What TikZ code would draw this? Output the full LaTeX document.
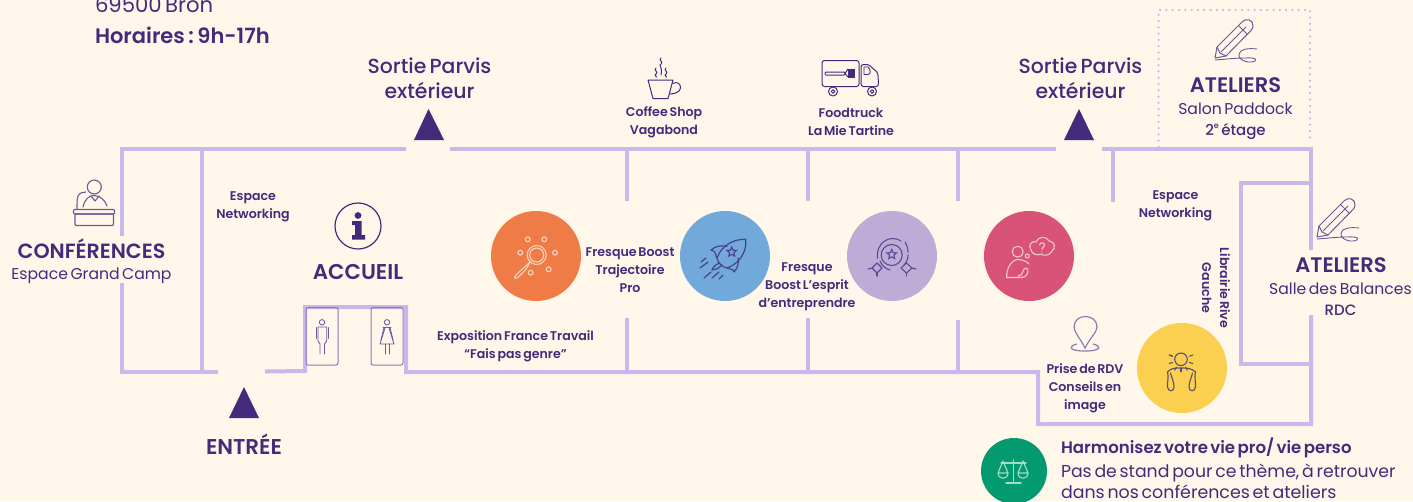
\documentclass[tikz,border=0pt]{standalone}
\usepackage{fontspec}
\usetikzlibrary{shapes.geometric}
\setmainfont{Poppins}[WordSpace=0.6]
\newfontfamily\pmed{Poppins Medium}[WordSpace=0.6]
\newfontfamily\psemi{Poppins SemiBold}[WordSpace=0.6]
\definecolor{bgc}{HTML}{FFF7EA}
\definecolor{ink}{HTML}{432B7C}
\definecolor{wall}{HTML}{C9B8EC}
\definecolor{iconc}{HTML}{6A5A9A}
\definecolor{corange}{RGB}{239,123,70}
\definecolor{cblue}{RGB}{112,169,218}
\definecolor{clilac}{RGB}{189,172,214}
\definecolor{cpink}{RGB}{217,82,120}
\definecolor{cyellow}{RGB}{251,207,80}
\definecolor{cgreen}{RGB}{4,154,111}
\definecolor{iorange}{RGB}{248,214,192}
\definecolor{iblue}{RGB}{72,66,142}
\definecolor{ililac}{RGB}{90,74,148}
\definecolor{ipink}{RGB}{243,198,211}
\definecolor{iyellow}{RGB}{92,78,110}
\definecolor{igreen}{RGB}{165,220,197}
\definecolor{ipin}{RGB}{140,125,175}
\definecolor{iwc}{RGB}{140,120,180}
\tikzset{
  wallline/.style={draw=wall,line width=4pt,line cap=butt,line join=miter},
  dotline/.style={draw=wall,line width=2.5pt,line cap=round,dash pattern=on 0pt off 6.3pt},
  lab/.style={text=ink,inner sep=0pt,outer sep=0pt,align=center},
  small/.style={lab,yshift=-1pt,font=\psemi\fontsize{12.6}{18}\selectfont},
  big/.style={lab,font=\psemi\fontsize{21}{24}\selectfont},
  bigger/.style={lab,font=\psemi\fontsize{21.4}{24}\selectfont},
  sortie/.style={lab,font=\pmed\fontsize{20.4}{25}\selectfont},
  sub/.style={lab,font=\fontsize{15.65}{21}\selectfont},
  subm/.style={lab,font=\pmed\fontsize{15}{18}\selectfont},
  spot/.style={circle,inner sep=0pt,minimum size=90pt},
  exit/.style={fill=ink,draw=none},
  icon/.style={draw=iconc,line width=1.1pt,line cap=round,line join=round},
  pure/.style={draw=ink,line width=1pt,line cap=round,line join=round},
  penicon/.pic={
    \draw[icon,line width=1pt] (0,0) -- (2,-11) -- (27.5,-36.5) .. controls (31,-40) and (38.5,-38.5) .. (38,-32) .. controls (38,-30) and (37,-28.5) .. (36,-27.5) -- (11,-2) -- cycle;
    \draw[icon,line width=1pt] (2,-11) -- (5,-5) -- (11,-2) (6.3,-6.3) -- (31,-31) (23.5,-32.5) -- (32,-24);
    \draw[icon,line width=.9pt] (0,2) .. controls (12,1) and (22,0) .. (30,0) .. controls (42,-1) and (44,3) .. (36,4) .. controls (28,4.5) and (23,0) .. (24,-4) .. controls (25,-9) and (33,-10) .. (42,-9);
  }
}
\begin{document}
\begin{tikzpicture}[x=1pt,y=-1pt]
\useasboundingbox (0,0) rectangle (1413,501);
\clip (0,0) rectangle (1413,501);
\fill[bgc] (0,0) rectangle (1413,501);

% walls
\draw[wallline] (122,236) -- (122,149) -- (406,149);
\draw[wallline] (122,283) -- (122,372) -- (218,372);
\draw[wallline] (202,149) -- (202,372);
\draw[wallline] (450,149) -- (1056,149);
\draw[wallline] (1102,149) -- (1311,149) -- (1311,250);
\draw[wallline] (265,371.5) -- (305,371) -- (305,307) -- (406,307) -- (406,372) -- (1038,372) -- (1038,424) -- (1311,424) -- (1311,315);
\draw[wallline] (1311,183) -- (1241,183) -- (1241,364) -- (1311,364);
\draw[wallline] (627,149) -- (627,201) (627,318) -- (627,372);
\draw[wallline] (808,149) -- (808,201) (808,318) -- (808,372);
\draw[wallline] (958,149) -- (958,201) (958,320) -- (958,372);
\draw[wallline] (1113,149) -- (1113,202);
\draw[dotline] (1158.5,147) -- (1158.5,10) -- (1310,10) -- (1310,140);

% exits
\fill[exit] (428.5,109) -- (444,140) -- (414,140) -- cycle;
\fill[exit] (1079,109) -- (1094,140) -- (1064,140) -- cycle;
\fill[exit] (244,387) -- (259,418) -- (229,418) -- cycle;

% spots
\node[spot,fill=corange] (orange) at (536,256) {};
\node[spot,fill=cblue] (blue) at (725,256) {};
\node[spot,fill=clilac] (lilac) at (892,256) {};
\node[spot,fill=cpink] (pink) at (1029,256) {};
\node[spot,fill=cyellow] (yellow) at (1182,368) {};
\node[spot,minimum size=66pt,fill=cgreen] (green) at (1014,471) {};

% orange icon
\begin{scope}[draw=iorange,line width=1.1pt]
\draw (536.7,255) circle (9.5);
\draw (536.7,255) circle (7);
\draw (530,262) .. controls (526,266) and (520,271) .. (516,275) .. controls (513,278) and (515,279) .. (517,278) .. controls (522,274) and (528,268) .. cycle;
\foreach \a/\b in {527.7/239.3,544.3/239.3,520.3/252.7,555/252.7,530.7/272.7,548.7/269.3}
  \draw (\a,\b) circle (2.4);
\end{scope}

% rocket icon
\begin{scope}[draw=iblue,line width=1.2pt,line cap=round,line join=round]
\draw (745.7,239.3) .. controls (735,239) and (722,244) .. (717,258) .. controls (718,263) and (722,267) .. (727,268) .. controls (741,263) and (747,250) .. cycle;
\draw (717,258) .. controls (715,254) and (716,251) .. (711,250) .. controls (715,246) and (722,245) .. (727,246.5);
\draw (727,268) .. controls (733,270) and (735,270) .. (734,272) .. controls (738,268) and (739,262) .. (738,258);
\draw (720,263) .. controls (716,264) and (713,267) .. (712,270) .. controls (715,270) and (718,269) .. (722,265);
\draw (701,262) -- (706,258) (700,268) -- (708,262) (704,278) -- (711,272) (712,278) -- (719,272) (719,279) -- (723,275);
\end{scope}
\node[star,star points=5,star point ratio=2.2,draw=iblue,line width=1.1pt,minimum size=10pt,inner sep=0pt] (rocketstar) at (731.7,252) {};

% medal icon
\begin{scope}[draw=ililac,line width=1.1pt,line cap=round,line join=round]
\draw (891.7,255) circle (10.5);
\draw (877.5,258) .. controls (876,248) and (883,238.5) .. (893,238.5) .. controls (896,238.5) and (899,239.5) .. (901,241);
\draw (905,242) .. controls (907,245) and (908,249) .. (908,252);
\draw (908,255) .. controls (908,258) and (907,262) .. (904,265);
\draw (880,261) .. controls (882,266) and (886,269) .. (890,270);
\draw (882,268) -- (877,263) -- (872,268) -- (877,273) -- cycle;
\draw (901,268) -- (906.5,263) -- (912,268) -- (906.5,273) -- cycle;
\draw (868,269) -- (872,268) (912,268) -- (916,269);
\draw (877,273) -- (877,276) (906.5,273) -- (906.5,276);
\end{scope}
\node[star,star points=5,star point ratio=2.2,draw=ililac,line width=1.1pt,minimum size=10pt,inner sep=0pt] (medalstar) at (891.7,254.5) {};

% thinking person icon
\begin{scope}[draw=ipink,line width=1.1pt,line cap=round,line join=round]
\draw (1017.7,251.7) circle (5.5);
\draw (1027.3,256) circle (2);
\draw (1006.7,277.5) .. controls (1006,268) and (1012,259.5) .. (1018,259.5) .. controls (1023,259.5) and (1027,262) .. (1029,264);
\draw (1006.7,277.5) -- (1022,277.5) .. controls (1028,277.5) and (1030,268) .. (1026,268) .. controls (1022,268) and (1024,276) .. (1018,276);
\draw (1031,250) .. controls (1027,245) and (1033,240) .. (1036,242) .. controls (1038,236) and (1047,236) .. (1049,241) .. controls (1055,241) and (1056,249) .. (1052,251) .. controls (1050,256) and (1043,256) .. (1041,254) .. controls (1037,256) and (1032,254) .. cycle;
\draw (1039.5,245) .. controls (1040,242) and (1045,242) .. (1044.5,245.5) .. controls (1044,247) and (1042,247) .. (1042,249.5);
\fill[ipink] (1042,252) circle (.7);
\end{scope}

% sun person icon
\begin{scope}[draw=iyellow,line width=1.1pt,line cap=round,line join=round]
\draw (1181,359.3) circle (6.3);
\foreach \a in {-20,20,60,90,120,160,200,-160}
  \draw (1181,359.3) ++(\a:9) -- ++(\a:3.5);
\draw (1167.5,372) .. controls (1171,368) and (1175,368) .. (1181,368) .. controls (1187,368) and (1191,368) .. (1195.5,372);
\draw (1167.5,372) .. controls (1169,377) and (1167,383) .. (1167.5,387) .. controls (1168,392) and (1174,392) .. (1174,387) .. controls (1174,382) and (1172,379) .. (1170.5,373);
\draw (1195.5,372) .. controls (1194,377) and (1196,383) .. (1195.5,387) .. controls (1195,392) and (1189,392) .. (1189,387) .. controls (1189,382) and (1191,379) .. (1192.5,373);
\end{scope}

% scale icon
\begin{scope}[draw=igreen,line width=1.1pt,line cap=round,line join=round]
\draw (1013.3,460) -- (1013.3,482) (1006,483) -- (1021,483);
\draw (1001,463) -- (1026,463);
\draw (998,473) -- (1003,461) -- (1008,473) (998,473) .. controls (998,480) and (1008,480) .. (1008,473) -- cycle;
\draw (1018,473) -- (1023,461) -- (1028,473) (1018,473) .. controls (1018,480) and (1028,480) .. (1028,473) -- cycle;
\end{scope}

% podium icon
\begin{scope}[icon]
\draw (94.3,187) circle (7);
\draw (83,207) .. controls (85,199) and (89,195.5) .. (94,195.5) .. controls (100,195.5) and (105,200) .. (107,206);
\draw (91,196) -- (95,201) -- (99,196);
\draw (77,209) .. controls (77,203) and (77,199) .. (78,196) .. controls (79,193) and (83,192) .. (86,192);
\draw[rounded corners=1pt] (73.5,209.5) rectangle (114.5,214);
\draw[rounded corners=1pt] (75,214) rectangle (113.5,225.5);
\end{scope}

% info icon
\draw[ink,line width=1.2pt] (358,226) circle (23);
\fill[ink] (358,215.5) circle (3.4);
\fill[ink] (352,221) -- (361.5,221) -- (361.5,235) -- (365,235) -- (365,239.5) -- (352,239.5) -- (352,235) -- (355,235) -- (355,225) -- (352,225) -- cycle;

% toilets
\begin{scope}[line width=1pt]
\draw[draw=iwc,rounded corners=2pt] (306,307.5) rectangle (338,365);
\draw[draw=iwc,rounded corners=2pt] (371,307.5) rectangle (403,365);
\end{scope}
\begin{scope}[pure,draw=iconc,line width=.85pt]
\draw (322,322.3) circle (2.7);
\draw (316,327.5) -- (316,338.5) (328.7,327.5) -- (328.7,338.5);
\draw (318,327) -- (318,341) -- (320,344) -- (320,354) (326.7,327) -- (326.7,341) -- (324.5,344) -- (324.5,354) (318,327) -- (326.7,327);
\draw (387,322.3) circle (2.7);
\draw (381,340) -- (384,327.5) (393,340) -- (390,327.5);
\draw (383,327) -- (391,327);
\draw (385,328) -- (380,344) -- (394,344) -- (389,328);
\draw (385,344) -- (385,354) (389,344) -- (389,354);
\end{scope}

% coffee
\begin{scope}[pure,line width=1pt]
\draw (648,80) -- (673,80) -- (668,98.5) -- (653,98.5) -- cycle;
\draw (673,83.5) .. controls (677,81) and (681,84) .. (680.5,88) .. controls (680,92) and (675,94) .. (670,94);
\foreach \a/\t/\b in {656/68/77, 661/58/75, 666/68/77}
  \draw (\a,\t) .. controls (\a-3,\t+2.5) and (\a+3,\t+3.5) .. (\a,\t+6) .. controls (\a-3,\t+8) and (\a+2,\t+8) .. (\a,\b);
\end{scope}

% truck
\begin{scope}[pure,line width=1pt]
\draw[rounded corners=2.5pt] (822,60.5) rectangle (859,86.5);
\draw[rounded corners=2.5pt] (861,64.5) -- (869,64.5) .. controls (872,68) and (875,70) .. (878,73) -- (878.5,86.5) -- (861,86.5) -- cycle;
\draw[line width=.9pt] (864,67) -- (868,67) .. controls (871,70) and (871,74) .. (868,74.5) -- (864,74.5) -- cycle;
\draw[rounded corners=1pt] (825,72) rectangle (845,75);
\fill[ink] (848,69) rectangle (855,77.5);
\draw (845,73.5) -- (848,69) (845,73.5) -- (848,77);
\draw (833,91.5) circle (4.5) (833,91.5) circle (1.8);
\draw (872,91.5) circle (4.5) (872,91.5) circle (1.8);
\end{scope}

% pin
\begin{scope}[draw=ipin,line width=1.2pt]
\draw (1085,348) .. controls (1080,338) and (1074,332) .. (1074,327) .. controls (1074,313) and (1097,313) .. (1097,327) .. controls (1097,332) and (1090,338) .. (1085,348) -- cycle;
\draw (1077,344) .. controls (1068,346) and (1068,351) .. (1085,351) .. controls (1102,351) and (1102,346) .. (1093,344);
\end{scope}

% pencils
\pic at (1215,58) {penicon};
\pic at (1317,237) {penicon};

% labels
\node[lab,anchor=base west,font=\fontsize{21.2}{24}\selectfont] (addr) at (95,12) {69500 Bron};
\node[lab,anchor=base west,font=\psemi\fontsize{21}{24}\selectfont] (hours) at (95,43) {Horaires\,:\,9h-17h};
\node[sortie] (s1) at (429.5,78.5) {Sortie Parvis\\extérieur};
\node[sortie] (s2) at (1080.5,78.5) {Sortie Parvis\\extérieur};
\node[small] (coffee) at (664,121) {Coffee Shop\\Vagabond};
\node[small] (food) at (851,120.5) {Foodtruck\\La Mie Tartine};
\node[big] (at1) at (1235.5,85.5) {ATELIERS};
\node[sub] (paddock) at (1235.5,109) {Salon Paddock};
\node[subm] (floor) at (1235.5,132) {2\raisebox{.5em}{\fontsize{8}{8}\selectfont e} étage};
\node[small] (net1) at (253,205.5) {Espace\\Networking};
\node[small] (net2) at (1175.5,204.5) {Espace\\Networking};
\node[lab,font=\psemi\fontsize{20.6}{24}\selectfont] (conf) at (91.5,249) {CONFÉRENCES};
\node[sub] (camp) at (91.5,275.5) {Espace Grand Camp};
\node[bigger] (acc) at (358,272) {ACCUEIL};
\node[bigger] (ent) at (244,444) {ENTRÉE};
\node[small] (expo) at (515.5,345) {Exposition France Travail\\“Fais pas genre”};
\node[small] (fr1) at (630,269) {Fresque Boost\\Trajectoire\\Pro};
\node[small] (fr2) at (807,285.5) {Fresque\\Boost L’esprit\\d’entreprendre};
\node[small] (rdv) at (1085,387) {Prise de RDV\\Conseils en\\image};
\node[small,rotate=-90] (lib) at (1216,287) {Librairie Rive\\Gauche};
\node[big] (at2) at (1341,265.5) {ATELIERS};
\node[sub] (bal) at (1340.5,289) {Salle des Balances};
\node[subm] (rdc) at (1340.5,310) {RDC};
\node[lab,anchor=base west,font=\psemi\fontsize{16.6}{20}\selectfont] (h1) at (1061,453) {Harmonisez votre vie pro/ vie perso};
\node[lab,anchor=base west,font=\fontsize{17.3}{20}\selectfont] (h2) at (1061,477) {Pas de stand pour ce thème, à retrouver};
\node[lab,anchor=base west,font=\fontsize{17.4}{20}\selectfont] (h3) at (1061,498.5) {dans nos conférences et ateliers};
\end{tikzpicture}
\end{document}
